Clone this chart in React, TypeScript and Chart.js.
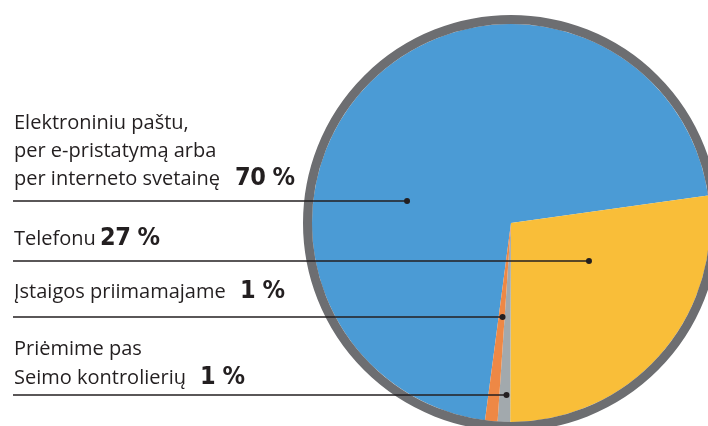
import React, { useEffect, useRef } from "react";
import { Chart, registerables } from "chart.js";

Chart.register(...registerables);

// ---- data (in clockwise drawing order) ----
const categories = [
  "Elektroniniu paštu, per e-pristatymą arba per interneto svetainę",
  "Telefonu",
  "Priėmime pas Seimo kontrolierių",
  "Įstaigos priimamajame",
];
const values = [70, 27, 1, 1];
const labelLines = [
  ["Elektroniniu paštu,", "per e-pristatymą arba", "per interneto svetainę"],
  ["Telefonu"],
  ["Priėmime pas", "Seimo kontrolierių"],
  ["Įstaigos priimamajame"],
];
const sliceColors = ["#4b9bd5", "#f9be39", "#a2a9ad", "#ee8845"];

// ---- layout / style ----
const W = 708;
const H = 426;
const CANVAS_W = 740;
const CANVAS_H = 450;
const ROTATION = 187.5;
const RING_COLOR = "#6d6e71";
const RING_WIDTH = 9;
const TEXT_COLOR = "#231f20";
const LEADER_X = 13;
// dot placement inside each slice: fraction of slice angle, fraction of radius
const dotAngleFrac = [0.371, 0.346, 0.35, 0.35];
const dotRadiusFrac = [0.534, 0.436, 0.865, 0.474];
const textBaselines = [[130, 158, 186], [246], [356, 385], [299]];
const pctX = [235, 100, 200, 240];
const TEXT_SIZE = 20;
const PCT_SIZE = 25;

const ringAndLeaders = {
  id: "ringAndLeaders",
  afterDatasetsDraw(chart: any) {
    const ctx = chart.ctx;
    const meta = chart.getDatasetMeta(0);
    const first = meta.data[0].getProps(["x", "y", "outerRadius"], true);
    const cx = first.x;
    const cy = first.y;
    const R = first.outerRadius;
    ctx.save();
    ctx.beginPath();
    ctx.arc(cx, cy, R + RING_WIDTH / 2, 0, Math.PI * 2);
    ctx.lineWidth = RING_WIDTH;
    ctx.strokeStyle = RING_COLOR;
    ctx.stroke();

    meta.data.forEach((el: any, i: number) => {
      const p = el.getProps(["startAngle", "endAngle"], true);
      const a = p.startAngle + dotAngleFrac[i] * (p.endAngle - p.startAngle);
      const px = cx + Math.cos(a) * dotRadiusFrac[i] * R;
      const py = cy + Math.sin(a) * dotRadiusFrac[i] * R;
      ctx.beginPath();
      ctx.moveTo(LEADER_X, py);
      ctx.lineTo(px, py);
      ctx.lineWidth = 1.5;
      ctx.strokeStyle = TEXT_COLOR;
      ctx.stroke();
      ctx.beginPath();
      ctx.arc(px, py, 3, 0, Math.PI * 2);
      ctx.fillStyle = TEXT_COLOR;
      ctx.fill();
    });
    ctx.restore();
  },
};

export default function App() {
  const ref = useRef<HTMLCanvasElement | null>(null);

  useEffect(() => {
    if (!ref.current) return;
    const chart = new Chart(ref.current, {
      type: "pie",
      data: {
        labels: categories,
        datasets: [
          {
            data: values,
            backgroundColor: sliceColors,
            borderWidth: 0,
          },
        ],
      },
      options: {
        responsive: false,
        animation: false,
        events: [],
        rotation: ROTATION,
        layout: { padding: { left: 312, right: 30, top: 24, bottom: 28 } },
        plugins: { legend: { display: false }, tooltip: { enabled: false } },
      },
      plugins: [ringAndLeaders],
    });
    return () => chart.destroy();
  }, []);

  return (
    <div
      style={{
        position: "fixed",
        left: 0,
        top: 0,
        width: W,
        height: H,
        overflow: "hidden",
        background: "#fff",
      }}
    >
      <canvas
        ref={ref}
        width={CANVAS_W}
        height={CANVAS_H}
        style={{ position: "absolute", left: 0, top: 0, width: CANVAS_W, height: CANVAS_H }}
      />
      {labelLines.map((lines, i) => (
        <React.Fragment key={i}>
          {lines.map((t, j) => (
            <div
              key={j}
              style={{
                position: "absolute",
                left: 14,
                top: textBaselines[i][j] - 0.888 * TEXT_SIZE,
                fontFamily: '"Open Sans", sans-serif',
                fontSize: TEXT_SIZE,
                lineHeight: TEXT_SIZE + "px",
                color: TEXT_COLOR,
                whiteSpace: "nowrap",
              }}
            >
              {t}
            </div>
          ))}
          <div
            style={{
              position: "absolute",
              left: pctX[i],
              top: textBaselines[i][lines.length - 1] - 1 - 0.846 * PCT_SIZE,
              fontFamily: '"DejaVu Sans Condensed", "DejaVu Sans", sans-serif',
              fontStretch: "condensed",
              fontWeight: 700,
              fontSize: PCT_SIZE,
              lineHeight: PCT_SIZE + "px",
              color: TEXT_COLOR,
              whiteSpace: "nowrap",
              letterSpacing: -0.5,
            }}
          >
            {values[i] + " %"}
          </div>
        </React.Fragment>
      ))}
    </div>
  );
}
